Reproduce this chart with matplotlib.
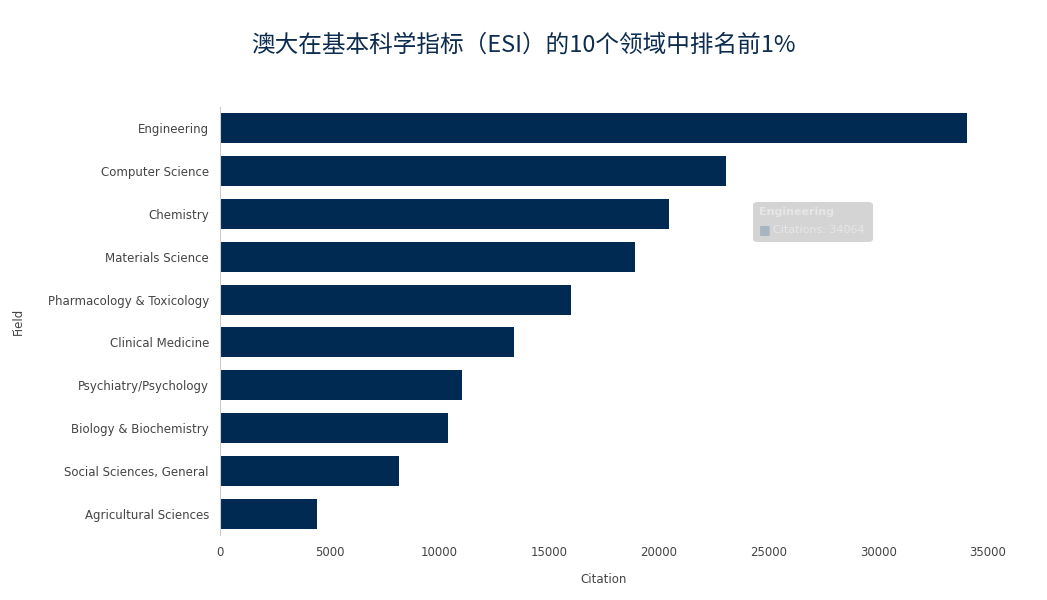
import matplotlib.pyplot as plt
from matplotlib.patches import FancyBboxPatch

fields = ['Engineering', 'Computer Science', 'Chemistry', 'Materials Science',
          'Pharmacology & Toxicology', 'Clinical Medicine', 'Psychiatry/Psychology',
          'Biology & Biochemistry', 'Social Sciences, General', 'Agricultural Sciences']
citations = [34064, 23060, 20460, 18910, 16000, 13400, 11030, 10390, 8160, 4420]
xticks = [0, 5000, 10000, 15000, 20000, 25000, 30000, 35000]

W, H = 1047, 600
fig = plt.figure(figsize=(W / 100, H / 100), dpi=100)
ax = fig.add_axes([220 / W, 1 - 535 / H, (988 - 220) / W, (535 - 107) / H])

ypos = list(range(len(fields)))
ax.barh(ypos, citations, height=0.7, color='#002a52')
ax.set_ylim(len(fields) - 0.5, -0.5)
ax.set_xlim(0, 35000)
ax.set_yticks(ypos)
ax.set_yticklabels(fields, fontsize=8.5, color='#444444', family='DejaVu Sans')
ax.set_xticks(xticks)
ax.set_xticklabels([str(v) for v in xticks], fontsize=8.5, color='#444444')
ax.tick_params(axis='both', length=0, pad=8)
for s in ['top', 'right', 'bottom']:
    ax.spines[s].set_visible(False)
ax.spines['left'].set_color('#cccccc')
ax.set_xlabel('Citation', fontsize=8.5, color='#444444', labelpad=10)
ax.set_ylabel('Field', fontsize=8.5, color='#444444', labelpad=-5)
ax.yaxis.set_label_coords(-220 / (988 - 220) + 25 / (988 - 220), 0.5)

fig.text(0.5, 1 - 45 / H, '澳大在基本科学指标（ESI）的10个领域中排名前1%',
         ha='center', va='center', fontsize=17, color='#0d2c4f',
         family='Noto Sans CJK SC')

# faded tooltip
box = FancyBboxPatch((753 / W, 1 - 242 / H), 120 / W, 40 / H,
                     boxstyle='round,pad=0,rounding_size=0.005',
                     transform=fig.transFigure, fc='#d4d4d4', ec='none', zorder=5)
fig.patches.append(box)
fig.text(759 / W, 1 - 212 / H, 'Engineering', fontsize=8, color='#e6e6e6',
         fontweight='bold', va='center', zorder=6)
fig.text(759 / W, 1 - 230 / H, '■', fontsize=9, color='#a8b4c0', va='center', zorder=6)
fig.text(773 / W, 1 - 230 / H, 'Citations: 34064', fontsize=8, color='#e6e6e6',
         va='center', zorder=6)

fig.savefig('out.png', dpi=100)
